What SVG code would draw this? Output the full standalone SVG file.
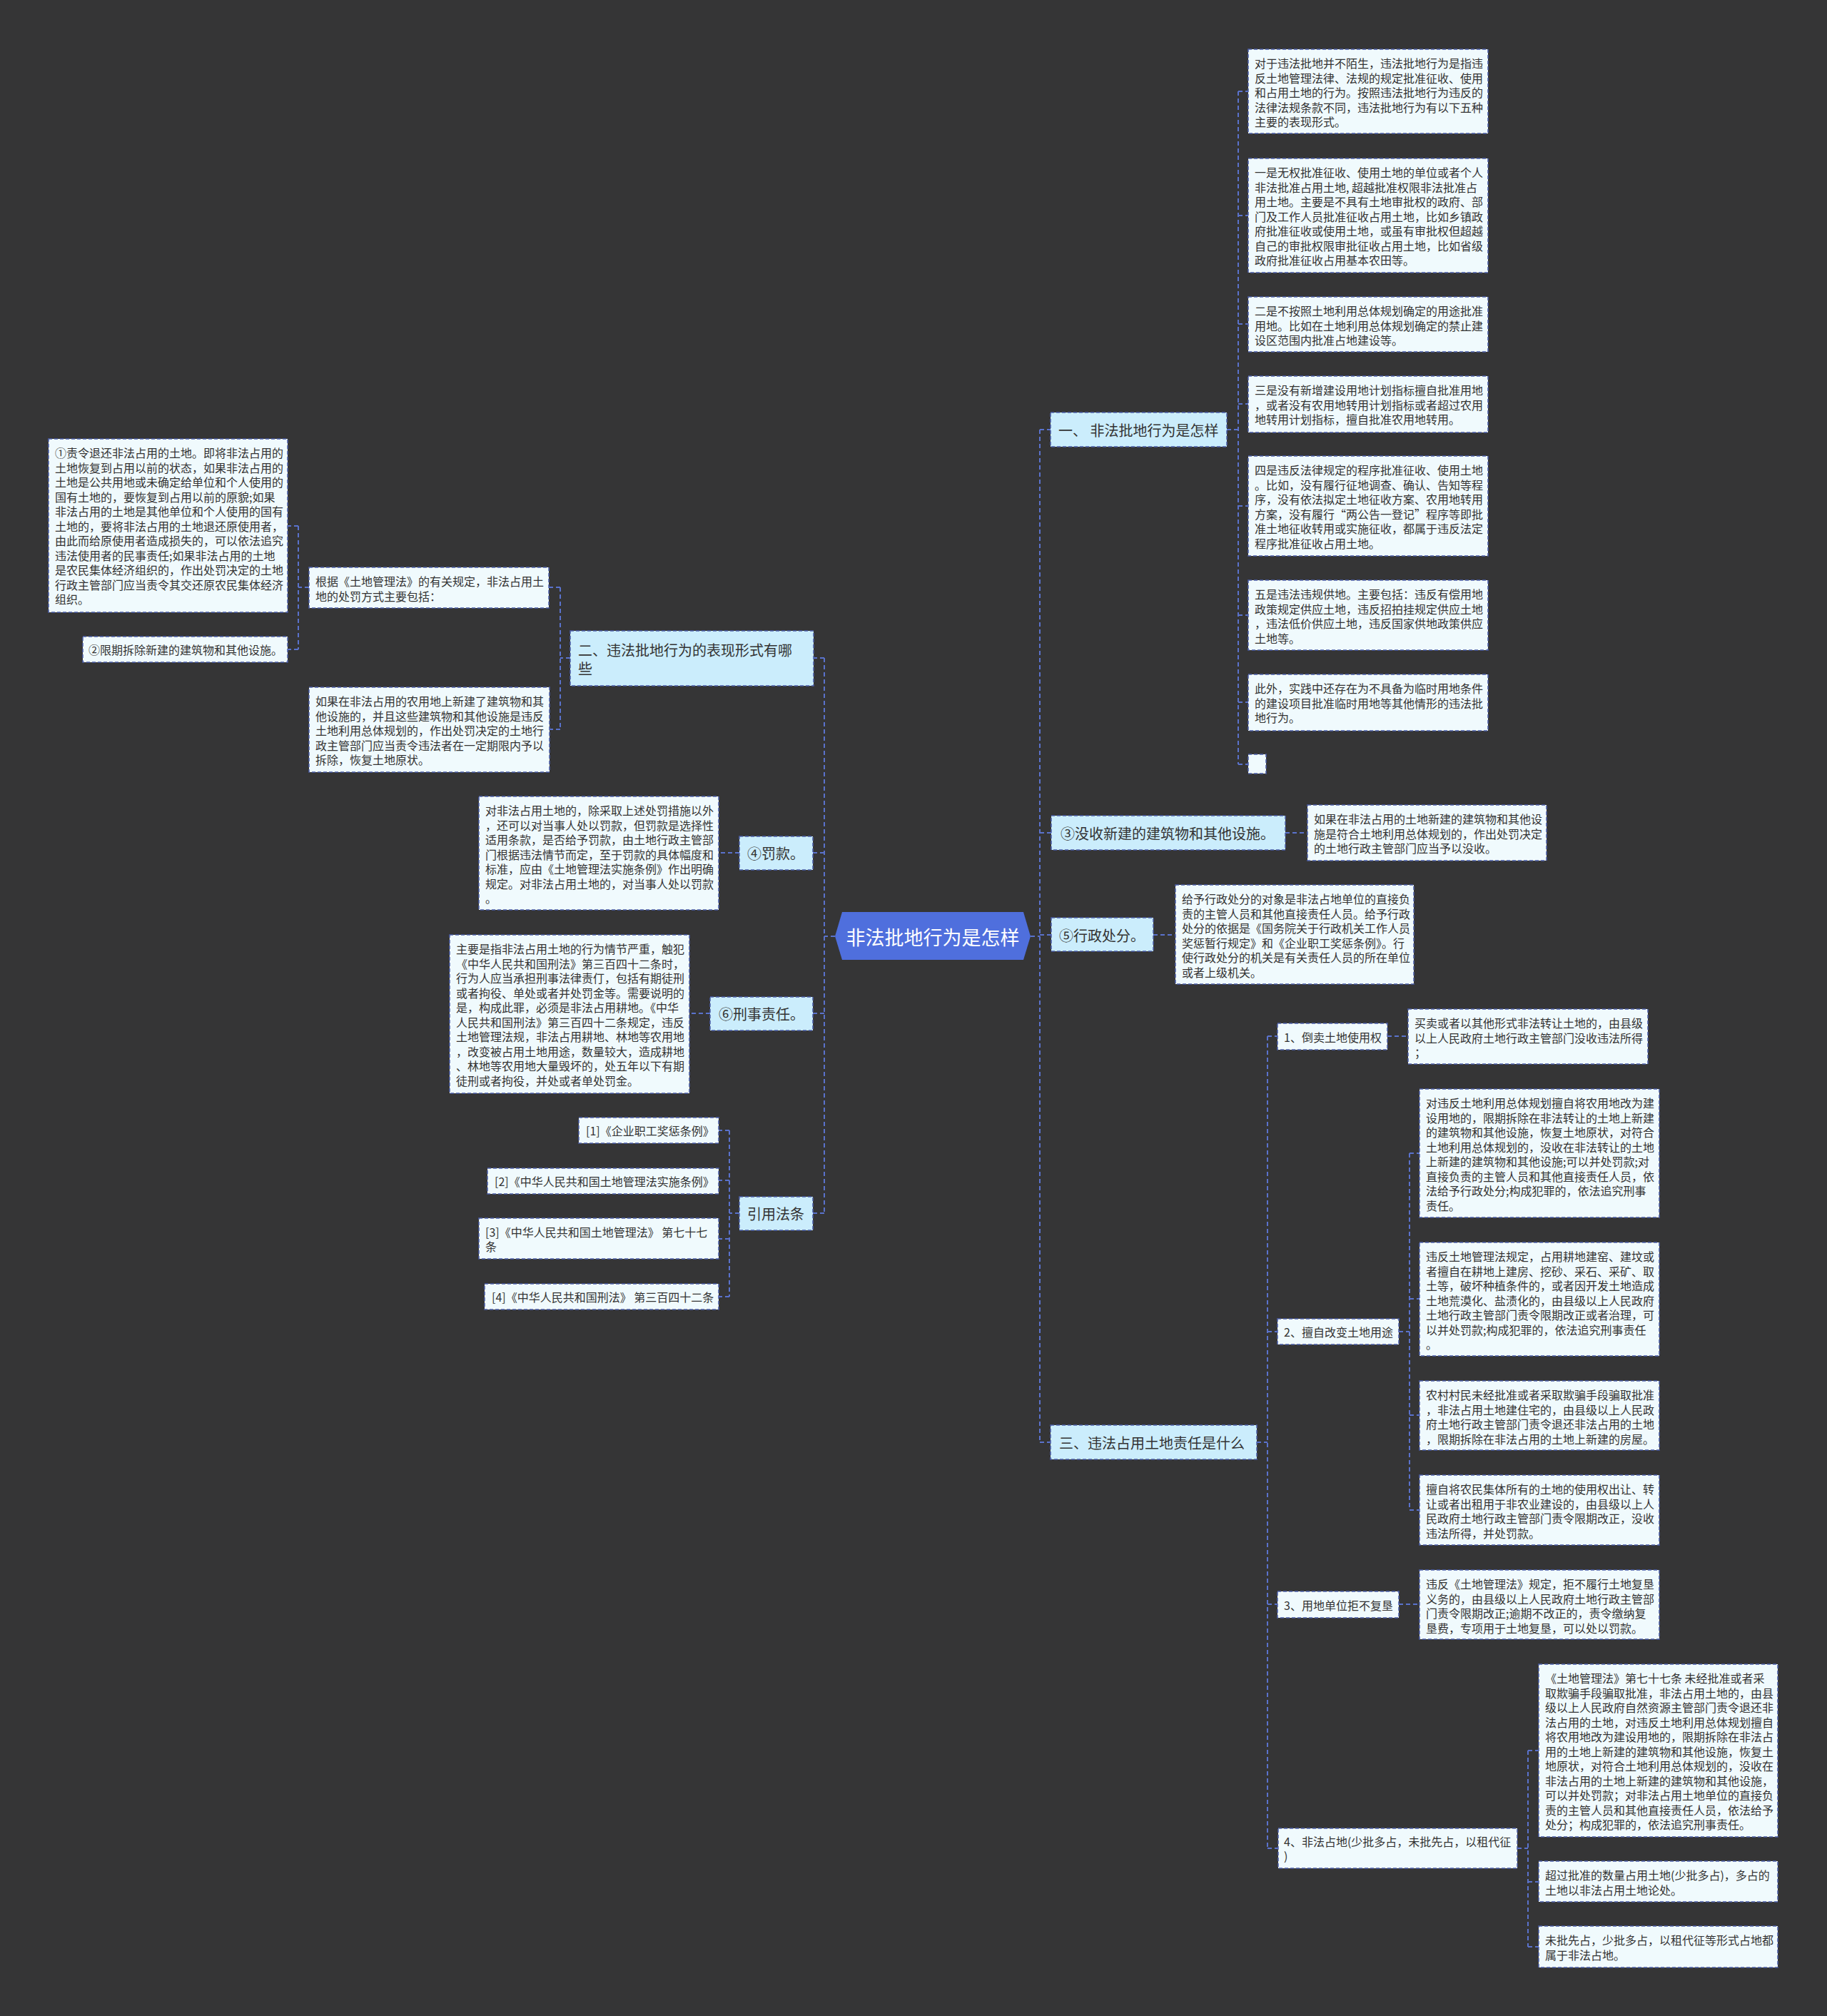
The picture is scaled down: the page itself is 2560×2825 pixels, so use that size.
<svg xmlns="http://www.w3.org/2000/svg" width="2560" height="2825" viewBox="0 0 2560 2825">
<style>
.bg{fill:#353536}
.d{fill:#f0fafd;stroke:#4b5ea8;stroke-width:1.5;stroke-dasharray:5 3}
.n{fill:#cbedfc;stroke:#4b5ea8;stroke-width:1.5;stroke-dasharray:5 3}
text{font-family:"Noto Sans CJK SC","Noto Sans",sans-serif;fill:#333;dominant-baseline:central}
.s16{font-size:16px}
.s20{font-size:20px}
.w{fill:#ffffff;font-size:27px}
.cn{fill:none;stroke:#5a72cc;stroke-width:2;stroke-dasharray:6 4}
</style>
<rect class="bg" x="0" y="0" width="2560" height="2825"/>
<g id="connectors" class="cn">
<path d="M1444,1312 H1457 M1457,602 V2021 M1457,602 H1472 M1457,1167 H1473 M1457,1310 H1473 M1457,2021 H1472"/>
<path d="M1719,602 H1735 M1735,128 V1071 M1735,128 H1749 M1735,302 H1749 M1735,454 H1749 M1735,566 H1749 M1735,709 H1749 M1735,862 H1749 M1735,984 H1749 M1735,1071 H1749"/>
<path d="M1801,1167 H1832 M1616,1310 H1647"/>
<path d="M1761,2021 H1776 M1776,1452 V2590 M1776,1452 H1790 M1776,1866 H1790 M1776,2248 H1790 M1776,2590 H1791"/>
<path d="M1944,1452 H1973 M1960,1866 H1975 M1975,1616 V2116 M1975,1616 H1989 M1975,1820 H1989 M1975,1983 H1989 M1975,2116 H1989 M1960,2248 H1989"/>
<path d="M2126,2590 H2141 M2141,2453 V2728 M2141,2453 H2156 M2141,2637 H2156 M2141,2728 H2156"/>
<path d="M1170,1312 H1155 M1155,922 V1700 M1155,922 H1140 M1155,1195 H1139 M1155,1420 H1139 M1155,1700 H1139"/>
<path d="M799,922 H785 M785,823 V1022 M785,823 H769 M785,1022 H770 M433,823 H418 M418,737 V910 M418,737 H403 M418,910 H403"/>
<path d="M1036,1195 H1007 M995,1420 H966 M1036,1700 H1022 M1022,1584 V1817 M1022,1584 H1007 M1022,1654 H1007 M1022,1736 H1007 M1022,1817 H1007"/>
</g>
<g id="root">
<polygon points="1180,1278 1434,1278 1444,1312 1434,1345 1180,1345 1170,1312" fill="#4f6fdd"/>
<text class="w" x="1307" y="1312" text-anchor="middle">非法批地行为是怎样</text>
</g>
<g id="n1">
<rect class="n" x="1472" y="578" width="247" height="48"/>
<text class="s20" x="1483" y="602">一、 非法批地行为是怎样</text>
</g>
<g id="a1">
<rect class="d" x="1749" y="69" width="336" height="118"/>
<text class="s16"><tspan x="1758" y="88">对于违法批地并不陌生，违法批地行为是指违</tspan><tspan x="1758" y="108.5">反土地管理法律、法规的规定批准征收、使用</tspan><tspan x="1758" y="129">和占用土地的行为。按照违法批地行为违反的</tspan><tspan x="1758" y="149.5">法律法规条款不同，违法批地行为有以下五种</tspan><tspan x="1758" y="170">主要的表现形式。</tspan></text>
</g>
<g id="a2">
<rect class="d" x="1749" y="222" width="336" height="160"/>
<text class="s16"><tspan x="1758" y="241">一是无权批准征收、使用土地的单位或者个人</tspan><tspan x="1758" y="261.5">非法批准占用土地, 超越批准权限非法批准占</tspan><tspan x="1758" y="282">用土地。主要是不具有土地审批权的政府、部</tspan><tspan x="1758" y="302.5">门及工作人员批准征收占用土地，比如乡镇政</tspan><tspan x="1758" y="323">府批准征收或使用土地，或虽有审批权但超越</tspan><tspan x="1758" y="343.5">自己的审批权限审批征收占用土地，比如省级</tspan><tspan x="1758" y="364">政府批准征收占用基本农田等。</tspan></text>
</g>
<g id="a3">
<rect class="d" x="1749" y="416" width="336" height="77"/>
<text class="s16"><tspan x="1758" y="435">二是不按照土地利用总体规划确定的用途批准</tspan><tspan x="1758" y="455.5">用地。比如在土地利用总体规划确定的禁止建</tspan><tspan x="1758" y="476">设区范围内批准占地建设等。</tspan></text>
</g>
<g id="a4">
<rect class="d" x="1749" y="527" width="336" height="79"/>
<text class="s16"><tspan x="1758" y="546">三是没有新增建设用地计划指标擅自批准用地</tspan><tspan x="1758" y="566.5">，或者没有农用地转用计划指标或者超过农用</tspan><tspan x="1758" y="587">地转用计划指标，擅自批准农用地转用。</tspan></text>
</g>
<g id="a5">
<rect class="d" x="1749" y="639" width="336" height="140"/>
<text class="s16"><tspan x="1758" y="658">四是违反法律规定的程序批准征收、使用土地</tspan><tspan x="1758" y="678.5">。比如，没有履行征地调查、确认、告知等程</tspan><tspan x="1758" y="699">序，没有依法拟定土地征收方案、农用地转用</tspan><tspan x="1758" y="719.5">方案，没有履行“两公告一登记”程序等即批</tspan><tspan x="1758" y="740">准土地征收转用或实施征收，都属于违反法定</tspan><tspan x="1758" y="760.5">程序批准征收占用土地。</tspan></text>
</g>
<g id="a6">
<rect class="d" x="1749" y="813" width="336" height="98"/>
<text class="s16"><tspan x="1758" y="832">五是违法违规供地。主要包括：违反有偿用地</tspan><tspan x="1758" y="852.5">政策规定供应土地，违反招拍挂规定供应土地</tspan><tspan x="1758" y="873">，违法低价供应土地，违反国家供地政策供应</tspan><tspan x="1758" y="893.5">土地等。</tspan></text>
</g>
<g id="a7">
<rect class="d" x="1749" y="945" width="336" height="79"/>
<text class="s16"><tspan x="1758" y="964">此外，实践中还存在为不具备为临时用地条件</tspan><tspan x="1758" y="984.5">的建设项目批准临时用地等其他情形的违法批</tspan><tspan x="1758" y="1005">地行为。</tspan></text>
</g>
<g id="a8">
<rect class="d" x="1749" y="1057" width="25" height="27"/>
</g>
<g id="n3">
<rect class="n" x="1473" y="1143" width="328" height="48"/>
<text class="s20" x="1486" y="1167">③没收新建的建筑物和其他设施。</text>
</g>
<g id="n3d">
<rect class="d" x="1832" y="1128" width="335" height="78"/>
<text class="s16"><tspan x="1841" y="1147">如果在非法占用的土地新建的建筑物和其他设</tspan><tspan x="1841" y="1167.5">施是符合土地利用总体规划的，作出处罚决定</tspan><tspan x="1841" y="1188">的土地行政主管部门应当予以没收。</tspan></text>
</g>
<g id="n5">
<rect class="n" x="1473" y="1286" width="143" height="47"/>
<text class="s20" x="1484" y="1310">⑤行政处分。</text>
</g>
<g id="n5d">
<rect class="d" x="1647" y="1240" width="334" height="139"/>
<text class="s16"><tspan x="1656" y="1259">给予行政处分的对象是非法占地单位的直接负</tspan><tspan x="1656" y="1279.5">责的主管人员和其他直接责任人员。给予行政</tspan><tspan x="1656" y="1300">处分的依据是《国务院关于行政机关工作人员</tspan><tspan x="1656" y="1320.5">奖惩暂行规定》和《企业职工奖惩条例》。行</tspan><tspan x="1656" y="1341">使行政处分的机关是有关责任人员的所在单位</tspan><tspan x="1656" y="1361.5">或者上级机关。</tspan></text>
</g>
<g id="n_3">
<rect class="n" x="1472" y="1997" width="289" height="48"/>
<text class="s20" x="1484" y="2021">三、违法占用土地责任是什么</text>
</g>
<g id="b1">
<rect class="d" x="1790" y="1434" width="154" height="37"/>
<text class="s16" x="1799" y="1452.5">1、倒卖土地使用权</text>
</g>
<g id="b1d">
<rect class="d" x="1973" y="1414" width="336" height="77"/>
<text class="s16"><tspan x="1982" y="1433">买卖或者以其他形式非法转让土地的，由县级</tspan><tspan x="1982" y="1453.5">以上人民政府土地行政主管部门没收违法所得</tspan><tspan x="1982" y="1474">；</tspan></text>
</g>
<g id="b2">
<rect class="d" x="1790" y="1848" width="170" height="36"/>
<text class="s16" x="1799" y="1866">2、擅自改变土地用途</text>
</g>
<g id="b2a">
<rect class="d" x="1989" y="1526" width="336" height="180"/>
<text class="s16"><tspan x="1998" y="1545">对违反土地利用总体规划擅自将农用地改为建</tspan><tspan x="1998" y="1565.5">设用地的，限期拆除在非法转让的土地上新建</tspan><tspan x="1998" y="1586">的建筑物和其他设施，恢复土地原状，对符合</tspan><tspan x="1998" y="1606.5">土地利用总体规划的，没收在非法转让的土地</tspan><tspan x="1998" y="1627">上新建的建筑物和其他设施;可以并处罚款;对</tspan><tspan x="1998" y="1647.5">直接负责的主管人员和其他直接责任人员，依</tspan><tspan x="1998" y="1668">法给予行政处分;构成犯罪的，依法追究刑事</tspan><tspan x="1998" y="1688.5">责任。</tspan></text>
</g>
<g id="b2b">
<rect class="d" x="1989" y="1741" width="336" height="159"/>
<text class="s16"><tspan x="1998" y="1760">违反土地管理法规定，占用耕地建窑、建坟或</tspan><tspan x="1998" y="1780.5">者擅自在耕地上建房、挖砂、采石、采矿、取</tspan><tspan x="1998" y="1801">土等，破坏种植条件的，或者因开发土地造成</tspan><tspan x="1998" y="1821.5">土地荒漠化、盐渍化的，由县级以上人民政府</tspan><tspan x="1998" y="1842">土地行政主管部门责令限期改正或者治理，可</tspan><tspan x="1998" y="1862.5">以并处罚款;构成犯罪的，依法追究刑事责任</tspan><tspan x="1998" y="1883">。</tspan></text>
</g>
<g id="b2c">
<rect class="d" x="1989" y="1935" width="336" height="97"/>
<text class="s16"><tspan x="1998" y="1954">农村村民未经批准或者采取欺骗手段骗取批准</tspan><tspan x="1998" y="1974.5">，非法占用土地建住宅的，由县级以上人民政</tspan><tspan x="1998" y="1995">府土地行政主管部门责令退还非法占用的土地</tspan><tspan x="1998" y="2015.5">，限期拆除在非法占用的土地上新建的房屋。</tspan></text>
</g>
<g id="b2d">
<rect class="d" x="1989" y="2067" width="336" height="98"/>
<text class="s16"><tspan x="1998" y="2086">擅自将农民集体所有的土地的使用权出让、转</tspan><tspan x="1998" y="2106.5">让或者出租用于非农业建设的，由县级以上人</tspan><tspan x="1998" y="2127">民政府土地行政主管部门责令限期改正，没收</tspan><tspan x="1998" y="2147.5">违法所得，并处罚款。</tspan></text>
</g>
<g id="b3">
<rect class="d" x="1790" y="2230" width="170" height="37"/>
<text class="s16" x="1799" y="2248.5">3、用地单位拒不复垦</text>
</g>
<g id="b3d">
<rect class="d" x="1989" y="2200" width="336" height="97"/>
<text class="s16"><tspan x="1998" y="2219">违反《土地管理法》规定，拒不履行土地复垦</tspan><tspan x="1998" y="2239.5">义务的，由县级以上人民政府土地行政主管部</tspan><tspan x="1998" y="2260">门责令限期改正;逾期不改正的，责令缴纳复</tspan><tspan x="1998" y="2280.5">垦费，专项用于土地复垦，可以处以罚款。</tspan></text>
</g>
<g id="b4">
<rect class="d" x="1791" y="2562" width="335" height="56"/>
<text class="s16"><tspan x="1799" y="2580">4、非法占地(少批多占，未批先占，以租代征</tspan><tspan x="1799" y="2600">)</tspan></text>
</g>
<g id="b4a">
<rect class="d" x="2156" y="2332" width="335" height="242"/>
<text class="s16"><tspan x="2165" y="2351">《土地管理法》第七十七条 未经批准或者采</tspan><tspan x="2165" y="2371.5">取欺骗手段骗取批准，非法占用土地的，由县</tspan><tspan x="2165" y="2392">级以上人民政府自然资源主管部门责令退还非</tspan><tspan x="2165" y="2412.5">法占用的土地，对违反土地利用总体规划擅自</tspan><tspan x="2165" y="2433">将农用地改为建设用地的，限期拆除在非法占</tspan><tspan x="2165" y="2453.5">用的土地上新建的建筑物和其他设施，恢复土</tspan><tspan x="2165" y="2474">地原状，对符合土地利用总体规划的，没收在</tspan><tspan x="2165" y="2494.5">非法占用的土地上新建的建筑物和其他设施，</tspan><tspan x="2165" y="2515">可以并处罚款；对非法占用土地单位的直接负</tspan><tspan x="2165" y="2535.5">责的主管人员和其他直接责任人员，依法给予</tspan><tspan x="2165" y="2556">处分；构成犯罪的，依法追究刑事责任。</tspan></text>
</g>
<g id="b4b">
<rect class="d" x="2156" y="2608" width="335" height="57"/>
<text class="s16"><tspan x="2165" y="2627">超过批准的数量占用土地(少批多占)，多占的</tspan><tspan x="2165" y="2647.5">土地以非法占用土地论处。</tspan></text>
</g>
<g id="b4c">
<rect class="d" x="2156" y="2699" width="335" height="58"/>
<text class="s16"><tspan x="2165" y="2718">未批先占，少批多占，以租代征等形式占地都</tspan><tspan x="2165" y="2738.5">属于非法占地。</tspan></text>
</g>
<g id="n2">
<rect class="n" x="799" y="884" width="341" height="77"/>
<text class="s20"><tspan x="810" y="910">二、违法批地行为的表现形式有哪</tspan><tspan x="810" y="936">些</tspan></text>
</g>
<g id="c0">
<rect class="d" x="433" y="795" width="336" height="57"/>
<text class="s16"><tspan x="442" y="814">根据《土地管理法》的有关规定，非法占用土</tspan><tspan x="442" y="834.5">地的处罚方式主要包括：</tspan></text>
</g>
<g id="c1">
<rect class="d" x="68" y="615" width="335" height="243"/>
<text class="s16"><tspan x="77" y="634">①责令退还非法占用的土地。即将非法占用的</tspan><tspan x="77" y="654.5">土地恢复到占用以前的状态，如果非法占用的</tspan><tspan x="77" y="675">土地是公共用地或未确定给单位和个人使用的</tspan><tspan x="77" y="695.5">国有土地的，要恢复到占用以前的原貌;如果</tspan><tspan x="77" y="716">非法占用的土地是其他单位和个人使用的国有</tspan><tspan x="77" y="736.5">土地的，要将非法占用的土地退还原使用者，</tspan><tspan x="77" y="757">由此而给原使用者造成损失的，可以依法追究</tspan><tspan x="77" y="777.5">违法使用者的民事责任;如果非法占用的土地</tspan><tspan x="77" y="798">是农民集体经济组织的，作出处罚决定的土地</tspan><tspan x="77" y="818.5">行政主管部门应当责令其交还原农民集体经济</tspan><tspan x="77" y="839">组织。</tspan></text>
</g>
<g id="c2">
<rect class="d" x="116" y="892" width="287" height="36"/>
<text class="s16" x="124" y="910">②限期拆除新建的建筑物和其他设施。</text>
</g>
<g id="c3">
<rect class="d" x="433" y="963" width="337" height="119"/>
<text class="s16"><tspan x="442" y="982">如果在非法占用的农用地上新建了建筑物和其</tspan><tspan x="442" y="1002.5">他设施的，并且这些建筑物和其他设施是违反</tspan><tspan x="442" y="1023">土地利用总体规划的，作出处罚决定的土地行</tspan><tspan x="442" y="1043.5">政主管部门应当责令违法者在一定期限内予以</tspan><tspan x="442" y="1064">拆除，恢复土地原状。</tspan></text>
</g>
<g id="n4">
<rect class="n" x="1036" y="1172" width="103" height="47"/>
<text class="s20" x="1047" y="1195">④罚款。</text>
</g>
<g id="n4d">
<rect class="d" x="671" y="1116" width="336" height="159"/>
<text class="s16"><tspan x="680" y="1135">对非法占用土地的，除采取上述处罚措施以外</tspan><tspan x="680" y="1155.5">，还可以对当事人处以罚款，但罚款是选择性</tspan><tspan x="680" y="1176">适用条款，是否给予罚款，由土地行政主管部</tspan><tspan x="680" y="1196.5">门根据违法情节而定，至于罚款的具体幅度和</tspan><tspan x="680" y="1217">标准，应由《土地管理法实施条例》作出明确</tspan><tspan x="680" y="1237.5">规定。对非法占用土地的，对当事人处以罚款</tspan><tspan x="680" y="1258">。</tspan></text>
</g>
<g id="n6">
<rect class="n" x="995" y="1397" width="144" height="47"/>
<text class="s20" x="1007" y="1420">⑥刑事责任。</text>
</g>
<g id="n6d">
<rect class="d" x="630" y="1310" width="336" height="222"/>
<text class="s16"><tspan x="639" y="1329">主要是指非法占用土地的行为情节严重，触犯</tspan><tspan x="639" y="1349.5">《中华人民共和国刑法》第三百四十二条时，</tspan><tspan x="639" y="1370">行为人应当承担刑事法律责仃，包括有期徒刑</tspan><tspan x="639" y="1390.5">或者拘役、单处或者并处罚金等。需要说明的</tspan><tspan x="639" y="1411">是，构成此罪，必须是非法占用耕地。《中华</tspan><tspan x="639" y="1431.5">人民共和国刑法》第三百四十二条规定，违反</tspan><tspan x="639" y="1452">土地管理法规，非法占用耕地、林地等农用地</tspan><tspan x="639" y="1472.5">，改变被占用土地用途，数量较大，造成耕地</tspan><tspan x="639" y="1493">、林地等农用地大量毁坏的，处五年以下有期</tspan><tspan x="639" y="1513.5">徒刑或者拘役，并处或者单处罚金。</tspan></text>
</g>
<g id="n7">
<rect class="n" x="1036" y="1677" width="103" height="47"/>
<text class="s20" x="1047" y="1700">引用法条</text>
</g>
<g id="r1">
<rect class="d" x="811" y="1566" width="196" height="36"/>
<text class="s16" x="821" y="1584">[1]《企业职工奖惩条例》</text>
</g>
<g id="r2">
<rect class="d" x="683" y="1637" width="324" height="36"/>
<text class="s16" x="693" y="1655">[2]《中华人民共和国土地管理法实施条例》</text>
</g>
<g id="r3">
<rect class="d" x="671" y="1707" width="336" height="57"/>
<text class="s16"><tspan x="680" y="1726">[3]《中华人民共和国土地管理法》 第七十七</tspan><tspan x="680" y="1746">条</tspan></text>
</g>
<g id="r4">
<rect class="d" x="679" y="1799" width="328" height="36"/>
<text class="s16" x="689" y="1817">[4]《中华人民共和国刑法》 第三百四十二条</text>
</g>
</svg>
